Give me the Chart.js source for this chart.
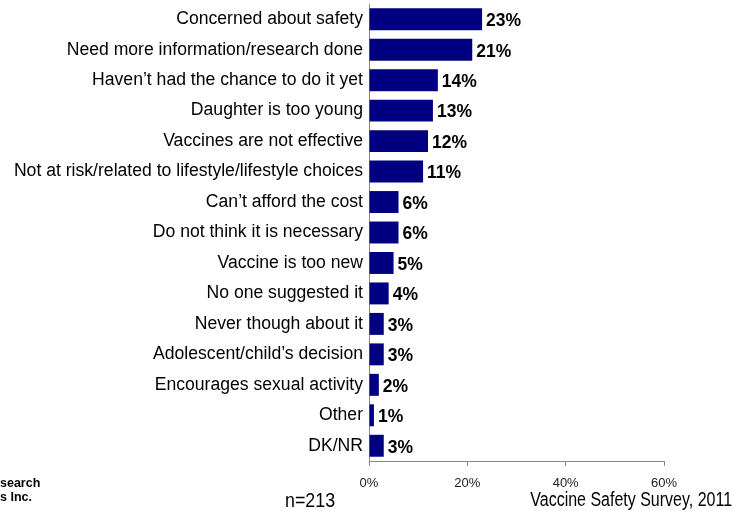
<!DOCTYPE html>
<html>
<head>
<meta charset="utf-8">
<script src="https://cdn.jsdelivr.net/npm/chart.js@4"></script>
<style>
  body { margin: 0; background: #fff; }
  #wrap { position: relative; width: 733px; height: 511px; overflow: hidden; }
  canvas { position: absolute; left: 0; top: 0; }
  .note { position: absolute; white-space: nowrap; line-height: 1; color: #000; }
  #source { left: 0; top: 476px; font: bold 12.5px "Liberation Sans", Arial, sans-serif; line-height: 14px; }
  #sample { left: 285px; top: 489px; font-size: 21px; font-family: "Liberation Sans", Arial, sans-serif;
            transform: scaleX(0.85); transform-origin: left top; }
  #survey { right: 1px; top: 490px; font-size: 19.5px; font-family: "Liberation Sans", Arial, sans-serif;
            transform: scaleX(0.82); transform-origin: right top; }
</style>
</head>
<body>
<div id="wrap">
  <canvas id="reasonsChart" width="733" height="511"></canvas>
  <div class="note" id="source">search<br>s Inc.</div>
  <div class="note" id="sample">n=213</div>
  <div class="note" id="survey">Vaccine Safety Survey, 2011</div>
</div>
<script>
const reasons = [
  'Concerned about safety',
  'Need more information/research done',
  'Haven\u2019t had the chance to do it yet',
  'Daughter is too young',
  'Vaccines are not effective',
  'Not at risk/related to lifestyle/lifestyle choices',
  'Can\u2019t afford the cost',
  'Do not think it is necessary',
  'Vaccine is too new',
  'No one suggested it',
  'Never though about it',
  'Adolescent/child\u2019s decision',
  'Encourages sexual activity',
  'Other',
  'DK/NR'
];
const percents = [23, 21, 14, 13, 12, 11, 6, 6, 5, 4, 3, 3, 2, 1, 3];
const axisTicks = [0, 20, 40, 60];

const FONT = '"Liberation Sans", Arial, sans-serif';

// value labels to the right of each bar
const barLabels = {
  id: 'barLabels',
  afterDatasetsDraw(chart) {
    const ctx = chart.ctx;
    const meta = chart.getDatasetMeta(0);
    ctx.save();
    ctx.font = 'bold 17.5px ' + FONT;
    ctx.fillStyle = '#000';
    ctx.textAlign = 'left';
    ctx.textBaseline = 'middle';
    meta.data.forEach((bar, i) => {
      ctx.fillText(percents[i] + '%', bar.x + 4, bar.y + 2);
    });
    ctx.restore();
  }
};

new Chart(document.getElementById('reasonsChart'), {
  type: 'bar',
  data: {
    labels: reasons,
    datasets: [{
      data: percents,
      backgroundColor: '#000080',
      barPercentage: 0.72,
      categoryPercentage: 1
    }]
  },
  options: {
    indexAxis: 'y',
    responsive: false,
    animation: false,
    layout: { padding: { top: 4, right: 69, left: 0, bottom: 0 } },
    plugins: {
      legend: { display: false },
      tooltip: { enabled: false }
    },
    scales: {
      x: {
        min: axisTicks[0],
        max: axisTicks[axisTicks.length - 1],
        afterBuildTicks: scale => { scale.ticks = axisTicks.map(v => ({ value: v })); },
        afterFit: scale => { scale.height = 50; },
        ticks: {
          callback: v => v + '%',
          font: { family: FONT, size: 13 },
          color: '#222',
          padding: 10,
          maxRotation: 0
        },
        grid: { drawOnChartArea: false, drawTicks: true, tickLength: 5, color: '#888' },
        border: { color: '#888', width: 1 }
      },
      y: {
        afterFit: scale => {
          scale.width = 369;
          scale.paddingTop = 0;
          scale.paddingBottom = 0;
        },
        ticks: {
          font: { family: FONT, size: 17.6 },
          color: '#000',
          padding: 6,
          autoSkip: false
        },
        grid: { drawOnChartArea: false, drawTicks: false },
        border: { color: '#888', width: 1 }
      }
    }
  },
  plugins: [barLabels]
});
</script>
</body>
</html>
